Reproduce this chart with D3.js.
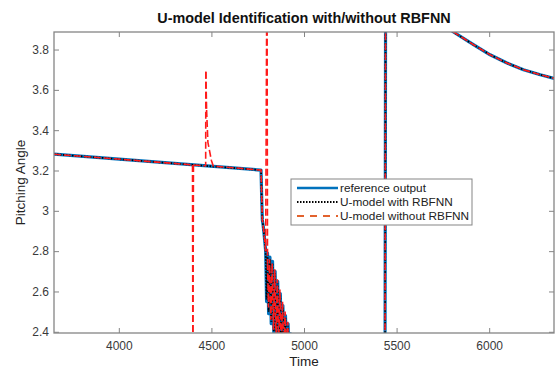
<!DOCTYPE html>
<html>
<head>
<meta charset="utf-8">
<script src="https://cdn.jsdelivr.net/npm/d3@7"></script>
<style>
  body { margin: 0; background: #fff; }
  svg { font-family: "Liberation Sans", Arial, sans-serif; }
</style>
</head>
<body>
<svg width="557" height="367"></svg>
<script>
// reference output + U-model with RBFNN share the same time stamps
var refTime = [3650, 4768, 4772, 4775, 4779, 4786, 4793, 4798, 4803, 4809, 4816, 4823, 4830, 4837, 4844,
  4851, 4858, 4865, 4872, 4879, 4886, 4893, 4900, 4907, 4914, 4921, 4927, 4933, 5100, 5437,
  5441, 5600, 5760, 5807, 5915, 6005, 6096, 6185, 6276, 6351];
var refValue = [3.281, 3.202, 3.05, 2.955, 2.93, 2.87, 2.80, 2.55, 2.79, 2.49, 2.77, 2.44, 2.75, 2.39, 2.70,
  2.35, 2.65, 2.31, 2.59, 2.28, 2.53, 2.26, 2.48, 2.24, 2.44, 2.22, 2.39, 2.30, 2.0, 1.9,
  4.3, 4.05, 3.915, 3.887, 3.824, 3.774, 3.733, 3.70, 3.675, 3.657];
var rbfValue = [3.281, 3.202, 3.05, 2.955, 2.93, 2.87, 2.80, 2.56, 2.78, 2.50, 2.76, 2.45, 2.74, 2.40, 2.69,
  2.36, 2.64, 2.32, 2.58, 2.29, 2.52, 2.27, 2.47, 2.25, 2.43, 2.23, 2.38, 2.30, 2.0, 1.9,
  4.3, 4.05, 3.915, 3.887, 3.824, 3.774, 3.733, 3.70, 3.675, 3.657];

// U-model without RBFNN
var noRbfTime = [3650, 4398, 4400, 4403, 4469, 4470, 4474, 4481, 4500, 4510, 4768, 4772, 4775, 4779, 4786,
  4793, 4800, 4803, 4808, 4814, 4821, 4828, 4835, 4842, 4849, 4856, 4863, 4870, 4877, 4884,
  4891, 4898, 4905, 4912, 4919, 4926, 4932, 5100, 5437, 5441, 5600, 5760, 5807, 5915, 6005,
  6096, 6185, 6276, 6351];
var noRbfValue = [3.281, 3.228, 2.2, 3.227, 3.223, 3.69, 3.50, 3.34, 3.25, 3.222, 3.202, 3.05, 2.955, 2.93, 2.87,
  2.80, 4.3, 2.74, 2.52, 2.76, 2.46, 2.74, 2.41, 2.71, 2.37, 2.66, 2.33, 2.61, 2.30, 2.55,
  2.27, 2.50, 2.25, 2.45, 2.23, 2.38, 2.30, 2.0, 1.9, 4.3, 4.05, 3.915, 3.887, 3.824, 3.774,
  3.733, 3.70, 3.675, 3.657];
// times where the no-RBFNN output spikes out and straight back
var spikeTimes = [4400, 4470, 4800];

var xTicks = [4000, 4500, 5000, 5500, 6000];
var yTicks = [2.4, 2.6, 2.8, 3, 3.2, 3.4, 3.6, 3.8];
var legendNames = ["reference output", "U-model with RBFNN", "U-model without RBFNN"];

var svg = d3.select("svg");
var plotL = 54, plotR = 554, plotT = 32, plotB = 333;
var axisColor = "#858585";
var redDash = "7,3";

var x = d3.scaleLinear().domain([3650, 6350]).range([plotL, plotR]);
var y = d3.scaleLinear().domain([2.394, 3.887]).range([plotB, plotT]);

svg.append("clipPath").attr("id", "plot")
  .append("rect").attr("x", plotL).attr("y", plotT)
  .attr("width", plotR - plotL).attr("height", plotB - plotT);

var lines = svg.append("g").attr("clip-path", "url(#plot)");

function pts(t, v) { return t.map(function (d, i) { return [d, v[i]]; }); }
var line = d3.line().x(function (d) { return x(d[0]); }).y(function (d) { return y(d[1]); });

lines.append("path").datum(pts(refTime, refValue))
  .attr("d", line).attr("fill", "none")
  .attr("stroke", "#0072BD").attr("stroke-width", 3.2).attr("stroke-linejoin", "round");
lines.append("path").datum(pts(refTime, rbfValue))
  .attr("d", line).attr("fill", "none")
  .attr("stroke", "#000").attr("stroke-width", 1.8).attr("stroke-dasharray", "1.5,1.5");

// the out-and-back spikes are drawn from their tip outwards so both legs
// get the same dash phase (otherwise the overlap reads as a solid line)
var noRbf = pts(noRbfTime, noRbfValue);
var spikeIdx = spikeTimes.map(function (t) { return noRbfTime.indexOf(t); });
var redLine = d3.line()
  .defined(function (d, i) { return spikeIdx.indexOf(i) < 0; })
  .x(function (d) { return x(d[0]); }).y(function (d) { return y(d[1]); });
lines.append("path").datum(noRbf)
  .attr("d", redLine).attr("fill", "none")
  .attr("stroke", "#ff1a1a").attr("stroke-width", 1.6).attr("stroke-dasharray", redDash);
spikeIdx.forEach(function (k) {
  [[noRbf[k], noRbf[k - 1]], [noRbf[k], noRbf[k + 1]]].forEach(function (seg) {
    lines.append("path").datum(seg)
      .attr("d", line).attr("fill", "none")
      .attr("stroke", "#ff1a1a").attr("stroke-width", 1.6).attr("stroke-dasharray", redDash);
  });
});

// axes, ticks pointing inward like matlab
var fmtY = function (d) { return d3.format("")(+d.toFixed(1)); };
var gx = svg.append("g").attr("transform", "translate(0," + plotB + ")")
  .call(d3.axisBottom(x).tickValues(xTicks).tickSize(-5).tickPadding(8).tickFormat(d3.format("d")));
var gy = svg.append("g").attr("transform", "translate(" + plotL + ",0)")
  .call(d3.axisLeft(y).tickValues(yTicks).tickSize(-5).tickPadding(5).tickFormat(fmtY));
var gt = svg.append("g").attr("transform", "translate(0," + plotT + ")")
  .call(d3.axisTop(x).tickValues(xTicks).tickSize(-5).tickFormat(""));
var gr = svg.append("g").attr("transform", "translate(" + plotR + ",0)")
  .call(d3.axisRight(y).tickValues(yTicks).tickSize(-5).tickFormat(""));

[gx, gy, gt, gr].forEach(function (g) {
  g.select(".domain").remove();
  g.selectAll("line").attr("stroke", axisColor);
  g.selectAll("text").attr("fill", "#3a3a3a").attr("font-size", "12px")
    .attr("font-family", "Liberation Sans, Arial, sans-serif");
});

svg.append("rect").attr("x", plotL).attr("y", plotT)
  .attr("width", plotR - plotL).attr("height", plotB - plotT)
  .attr("fill", "none").attr("stroke", axisColor).attr("stroke-width", 1.3);

svg.append("text").attr("x", (plotL + plotR) / 2).attr("y", 23)
  .attr("text-anchor", "middle").attr("font-size", "14.4px").attr("font-weight", "bold")
  .attr("fill", "#111").text("U-model Identification with/without RBFNN");

svg.append("text").attr("x", (plotL + plotR) / 2).attr("y", 365.5)
  .attr("text-anchor", "middle").attr("font-size", "13.5px").attr("fill", "#222").text("Time");

svg.append("text").attr("transform", "translate(25," + (plotT + plotB) / 2 + ") rotate(-90)")
  .attr("text-anchor", "middle").attr("font-size", "13.5px").attr("fill", "#222").text("Pitching Angle");

// legend
var legend = svg.append("g");
legend.append("rect").attr("x", 291).attr("y", 179).attr("width", 181).attr("height", 46)
  .attr("fill", "#fff").attr("stroke", axisColor).attr("stroke-width", 1);
var legendStyles = [
  { color: "#0072BD", width: 2.4, dash: null },
  { color: "#000", width: 2, dash: "1.5,1.5" },
  { color: "#E2622D", width: 2, dash: "7,6" }
];
legendNames.forEach(function (name, i) {
  var yy = 188 + i * 14;
  legend.append("line").attr("x1", 297).attr("x2", 338).attr("y1", yy).attr("y2", yy)
    .attr("stroke", legendStyles[i].color).attr("stroke-width", legendStyles[i].width)
    .attr("stroke-dasharray", legendStyles[i].dash);
  legend.append("text").attr("x", 340).attr("y", yy + 4).attr("font-size", "11.8px")
    .attr("fill", "#222").text(name);
});
</script>
</body>
</html>
